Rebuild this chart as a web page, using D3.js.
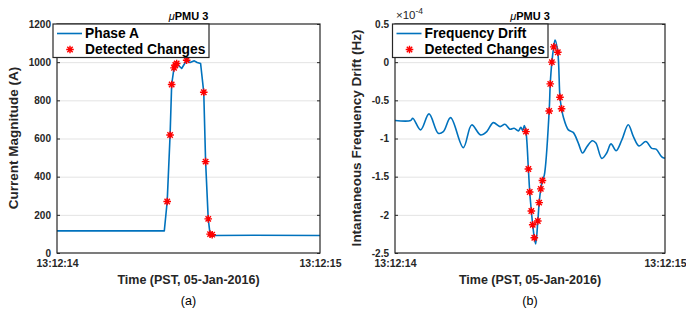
<!DOCTYPE html>
<html>
<head>
<meta charset="utf-8">
<script src="https://cdn.jsdelivr.net/npm/d3@7"></script>
<style>
  body { margin: 0; background: #fff; }
  text { font-family: "Liberation Sans", Arial, sans-serif; }
</style>
</head>
<body>
<div id="chart"></div>
<script>
// Panel (a): phase A current magnitude
const phaseTime = [0, 0.408, 0.419, 0.430, 0.436, 0.445, 0.450, 0.455, 0.474, 0.493, 0.506, 0.522, 0.533, 0.546, 0.558, 0.565, 0.575, 0.582, 0.590, 0.597, 0.75, 1.0];
const phaseValue = [116, 116, 270, 618, 883, 970, 985, 993, 967, 1010, 998, 1007, 998, 993, 842, 479, 179, 99, 96, 92, 93, 92];
const phaseChangeTime = [0.419, 0.430, 0.436, 0.445, 0.450, 0.455, 0.493, 0.558, 0.565, 0.575, 0.582, 0.590];
const phaseChangeValue = [270, 618, 883, 970, 985, 993, 1010, 842, 479, 179, 99, 96];
const phaseTicks = [0, 200, 400, 600, 800, 1000, 1200];

// Panel (b): frequency drift (x 1e-4 Hz)
const driftTime = [0, 0.058, 0.066, 0.095, 0.126, 0.160, 0.179, 0.206, 0.253, 0.284,
  0.317, 0.340, 0.364, 0.389, 0.407, 0.426, 0.441, 0.457, 0.466, 0.473,
  0.479, 0.485, 0.494, 0.499, 0.505, 0.510, 0.516, 0.521, 0.529, 0.534,
  0.540, 0.546, 0.553, 0.571, 0.575, 0.581, 0.588, 0.593, 0.603, 0.611,
  0.617, 0.623, 0.642, 0.660, 0.679, 0.695, 0.712, 0.731, 0.744, 0.766,
  0.784, 0.800, 0.819, 0.840, 0.864, 0.883, 0.904, 0.929, 0.951, 0.967,
  0.988, 1.0];
const driftValue = [-0.765, -0.765, -0.735, -0.887, -0.678, -0.931, -0.91, -0.726, -1.119, -0.822,
  -0.953, -0.909, -0.792, -0.844, -0.813, -0.879, -0.866, -0.90, -0.853, -0.896,
  -0.83, -0.91, -1.40, -1.70, -1.95, -2.13, -2.30, -2.38, -2.08, -1.84,
  -1.66, -1.55, -1.48, -0.64, -0.285, 0.0, 0.20, 0.29, 0.13, -0.46,
  -0.61, -0.713, -0.887, -0.92, -1.06, -1.19, -1.10, -1.03, -1.06, -1.26,
  -1.19, -1.07, -1.16, -1.02, -0.82, -0.975, -1.097, -1.04, -1.13, -1.14,
  -1.24, -1.26];
const driftChangeTime = [0.485, 0.494, 0.499, 0.505, 0.510, 0.516, 0.529, 0.534, 0.540, 0.546, 0.571, 0.575, 0.581, 0.588, 0.603, 0.611, 0.617];
const driftChangeValue = [-0.91, -1.40, -1.70, -1.95, -2.13, -2.30, -2.08, -1.84, -1.66, -1.55, -0.64, -0.285, 0.0, 0.20, 0.13, -0.46, -0.61];
const driftTicks = [-2.5, -2, -1.5, -1, -0.5, 0, 0.5];

const timeTicks = [0, 1];
const timeLabels = ["13:12:14", "13:12:15"];

const blue = "#0072bd";
const red = "#ff0000";
const axisColor = "#262626";

const svg = d3.select("#chart").append("svg")
    .attr("width", 686)
    .attr("height", 310);

svg.append("rect").attr("width", 686).attr("height", 310).attr("fill", "#fff");

// asterisk marker like matlab '*'
const star = "M-3.8,0L3.8,0M0,-3.8L0,3.8M-2.7,-2.7L2.7,2.7M-2.7,2.7L2.7,-2.7";

function drawPanel(opt) {
    const x = d3.scaleLinear().domain([0, 1]).range([opt.left, opt.right]);
    const y = d3.scaleLinear().domain(opt.yDomain).range([253, 24]);
    const g = svg.append("g");

    // grid
    g.append("g")
        .attr("transform", `translate(${opt.left},0)`)
        .call(d3.axisLeft(y).tickValues(opt.yTicks.slice(1, -1)).tickSize(-(opt.right - opt.left)).tickFormat(""))
        .call(a => a.select(".domain").remove())
        .call(a => a.selectAll("line").attr("stroke", "#e3e3e3").attr("stroke-width", 1));

    // line
    const pts = opt.xs.map((t, i) => [t, opt.ys[i]]);
    g.append("path")
        .datum(pts)
        .attr("fill", "none")
        .attr("stroke", blue)
        .attr("stroke-width", 1.6)
        .attr("stroke-linejoin", "round")
        .attr("d", d3.line().x(d => x(d[0])).y(d => y(d[1])).curve(opt.curve));

    // markers
    g.selectAll(".mk")
        .data(opt.mx.map((t, i) => [t, opt.my[i]]))
        .join("path")
        .attr("class", "mk")
        .attr("transform", d => `translate(${x(d[0])},${y(d[1])})`)
        .attr("d", star)
        .attr("stroke", red)
        .attr("stroke-width", 1.4)
        .attr("fill", "none");

    // box
    g.append("rect")
        .attr("x", opt.left).attr("y", 24)
        .attr("width", opt.right - opt.left).attr("height", 229)
        .attr("fill", "none").attr("stroke", axisColor).attr("stroke-width", 1.2);

    // y axis left
    const ya = g.append("g")
        .attr("transform", `translate(${opt.left},0)`)
        .call(d3.axisLeft(y).tickValues(opt.yTicks).tickSize(-3).tickPadding(6).tickFormat(opt.yFormat));
    ya.select(".domain").remove();
    ya.selectAll("line").attr("stroke", axisColor);
    ya.selectAll("text").attr("fill", axisColor).attr("font-size", 10).attr("font-weight", "bold")
        .attr("font-family", "'Liberation Sans', Arial, sans-serif");

    // y ticks right
    const yr = g.append("g")
        .attr("transform", `translate(${opt.right},0)`)
        .call(d3.axisRight(y).tickValues(opt.yTicks).tickSize(-3).tickFormat(""));
    yr.select(".domain").remove();
    yr.selectAll("line").attr("stroke", axisColor);

    // x axis
    const xa = g.append("g")
        .attr("transform", "translate(0,253)")
        .call(d3.axisBottom(x).tickValues(timeTicks).tickSize(0).tickPadding(7).tickFormat((d, i) => timeLabels[i]));
    xa.select(".domain").remove();
    xa.selectAll("text").attr("fill", axisColor).attr("font-size", 10.5).attr("font-weight", "bold")
        .attr("font-family", "'Liberation Sans', Arial, sans-serif");

    const cx = (opt.left + opt.right) / 2;

    // title
    const title = g.append("text")
        .attr("x", cx).attr("y", 20)
        .attr("text-anchor", "middle")
        .attr("font-size", 11).attr("font-weight", "bold")
        .attr("fill", "#000");
    title.append("tspan").attr("font-style", "italic").attr("font-weight", "normal").text("\u03bc");
    title.append("tspan").text("PMU 3");

    // x label
    g.append("text")
        .attr("x", cx).attr("y", 284)
        .attr("text-anchor", "middle")
        .attr("font-size", 12.5).attr("font-weight", "bold")
        .attr("fill", axisColor)
        .text("Time (PST, 05-Jan-2016)");

    // panel letter
    g.append("text")
        .attr("x", cx).attr("y", 305)
        .attr("text-anchor", "middle")
        .attr("font-size", 12.5)
        .attr("fill", "#000")
        .text(opt.letter);

    // y label
    g.append("text")
        .attr("transform", `translate(${opt.ylabelX},138) rotate(-90)`)
        .attr("text-anchor", "middle")
        .attr("font-size", opt.ylabelSize).attr("font-weight", "bold")
        .attr("fill", axisColor)
        .text(opt.ylabel);

    // legend
    const lg = g.append("g").attr("transform", `translate(${opt.legX},24)`);
    lg.append("rect")
        .attr("x", 0).attr("y", 0)
        .attr("width", opt.legW).attr("height", 33.5)
        .attr("fill", "#fff").attr("stroke", axisColor).attr("stroke-width", 1.2);
    lg.append("line")
        .attr("x1", 4).attr("x2", 29).attr("y1", 9.5).attr("y2", 9.5)
        .attr("stroke", blue).attr("stroke-width", 1.6);
    lg.append("path")
        .attr("transform", "translate(17,25.5)")
        .attr("d", star).attr("stroke", red).attr("stroke-width", 1.4).attr("fill", "none");
    lg.append("text")
        .attr("x", 32).attr("y", 14)
        .attr("font-size", 13.8).attr("font-weight", "bold").attr("fill", "#000")
        .text(opt.seriesName);
    lg.append("text")
        .attr("x", 32).attr("y", 30)
        .attr("font-size", 13.8).attr("font-weight", "bold").attr("fill", "#000")
        .text("Detected Changes");

    return g;
}

drawPanel({
    left: 57, right: 320,
    yDomain: [0, 1200], yTicks: phaseTicks, yFormat: d3.format("d"),
    xs: phaseTime, ys: phaseValue, mx: phaseChangeTime, my: phaseChangeValue,
    curve: d3.curveLinear,
    letter: "(a)", ylabel: "Current Magnitude (A)", ylabelX: 18, ylabelSize: 13.5,
    legX: 53, legW: 156, seriesName: "Phase A"
});

const gb = drawPanel({
    left: 395, right: 665,
    yDomain: [-2.5, 0.5], yTicks: driftTicks, yFormat: d => String(d).replace("\u2212", "-"),
    xs: driftTime, ys: driftValue, mx: driftChangeTime, my: driftChangeValue,
    curve: d3.curveCatmullRom.alpha(0.5),
    letter: "(b)", ylabel: "Intantaneous Frequency Drift (Hz)", ylabelX: 361, ylabelSize: 13.5,
    legX: 392.5, legW: 155.5, seriesName: "Frequency Drift"
});

// exponent label
const ex = gb.append("text")
    .attr("x", 396).attr("y", 19)
    .attr("font-size", 11.5).attr("fill", axisColor);
ex.append("tspan").text("\u00d710");
ex.append("tspan").attr("dy", -5).attr("font-size", 8.5).text("-4");
</script>
</body>
</html>
